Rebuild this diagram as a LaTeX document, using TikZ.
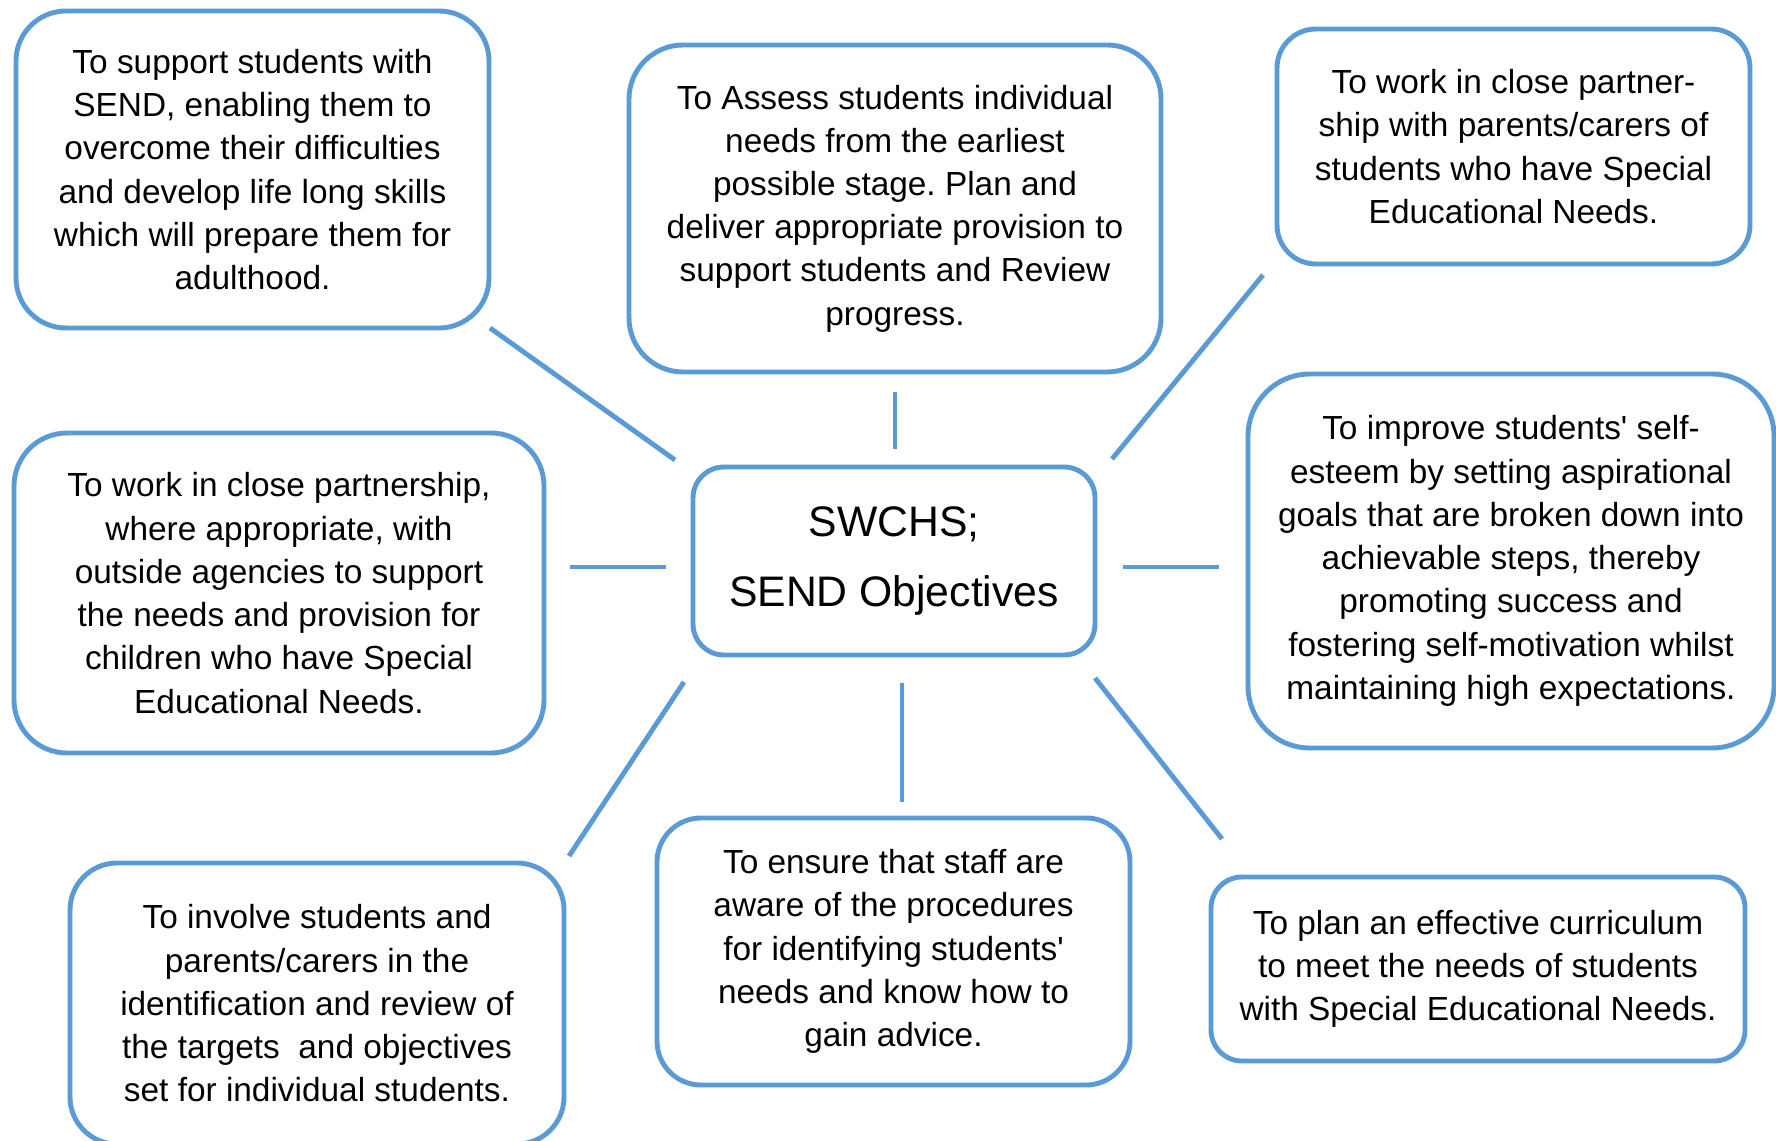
\documentclass[tikz,border=0pt]{standalone}
\usepackage{fontspec}
\setmainfont{Liberation Sans}
\usepackage{xcolor}
\usepackage{tikz}
\definecolor{sendblue}{RGB}{91, 155, 213}
\frenchspacing

\tikzset{
  aim/.style={draw=sendblue, line width=1.4pt, align=center, inner sep=0pt,
    font=\fontsize{9.5}{12.3}\selectfont},
  spoke/.style={draw=sendblue, line width=1.4pt}
}

\begin{document}
\begin{tikzpicture}[scale=1]
\useasboundingbox (0,0) rectangle (17.76,-11.41);

% Centre of the spider diagram
\node[aim, minimum width=4.02cm, minimum height=1.88cm, rounded corners=0.31cm,
  font=\fontsize{12.15}{19.9}\selectfont] (hub) at (8.94,-5.61) {SWCHS;\\SEND Objectives};

% Objectives round the centre
\node[aim, minimum width=4.73cm, minimum height=3.17cm, rounded corners=0.5cm] (support) at (2.525,-1.695)
  {To support students with\\SEND, enabling them to\\overcome their difficulties\\and develop life long skills\\which will prepare them for\\adulthood.};
\node[aim, minimum width=5.32cm, minimum height=3.27cm, rounded corners=0.54cm] (assess) at (8.95,-2.085)
  {To Assess students individual\\needs from the earliest\\possible stage. Plan and\\deliver appropriate provision to\\support students and Review\\progress.};
\node[aim, minimum width=4.73cm, minimum height=2.35cm, rounded corners=0.39cm] (parents) at (15.135,-1.465)
  {To work in close partner-\\ship with parents/carers of\\students who have Special\\Educational Needs.};
\node[aim, minimum width=5.30cm, minimum height=3.20cm, rounded corners=0.53cm] (agencies) at (2.79,-5.93)
  {To work in close partnership,\\where appropriate, with\\outside agencies to support\\the needs and provision for\\children who have Special\\Educational Needs.};
\node[aim, minimum width=5.26cm, minimum height=3.74cm, rounded corners=0.62cm] (esteem) at (15.11,-5.61)
  {To improve students\textquotesingle{} self-\\esteem by setting aspirational\\goals that are broken down into\\achievable steps, thereby\\promoting success and\\fostering self-motivation whilst\\maintaining high expectations.};
\node[aim, minimum width=4.94cm, minimum height=2.81cm, rounded corners=0.47cm] (involve) at (3.17,-10.035)
  {To involve students and\\parents/carers in the\\identification and review of\\the targets\ \ and objectives\\set for individual students.};
\node[aim, minimum width=4.73cm, minimum height=2.67cm, rounded corners=0.44cm] (staff) at (8.935,-9.515)
  {To ensure that staff are\\aware of the procedures\\for identifying students\textquotesingle\\needs and know how to\\gain advice.};
\node[aim, minimum width=5.34cm, minimum height=1.84cm, rounded corners=0.31cm] (curriculum) at (14.78,-9.69)
  {To plan an effective curriculum\\to meet the needs of students\\with Special Educational Needs.};

% Spoke ends (the spokes stop short of the boxes)
\coordinate (support-in) at (6.75,-4.60);  \coordinate (support-out) at (4.90,-3.28);
\coordinate (assess-in) at (8.95,-4.49);   \coordinate (assess-out) at (8.95,-3.92);
\coordinate (parents-in) at (11.12,-4.59); \coordinate (parents-out) at (12.63,-2.75);
\coordinate (agencies-in) at (6.66,-5.67); \coordinate (agencies-out) at (5.70,-5.67);
\coordinate (esteem-in) at (11.23,-5.67);  \coordinate (esteem-out) at (12.19,-5.67);
\coordinate (involve-in) at (6.84,-6.82);  \coordinate (involve-out) at (5.69,-8.56);
\coordinate (staff-in) at (9.02,-6.83);    \coordinate (staff-out) at (9.02,-8.02);
\coordinate (curriculum-in) at (10.95,-6.78); \coordinate (curriculum-out) at (12.22,-8.39);

\draw[spoke] (support-in) -- (support-out);
\draw[spoke] (assess-in) -- (assess-out);
\draw[spoke] (parents-in) -- (parents-out);
\draw[spoke] (agencies-in) -- (agencies-out);
\draw[spoke] (esteem-in) -- (esteem-out);
\draw[spoke] (involve-in) -- (involve-out);
\draw[spoke] (staff-in) -- (staff-out);
\draw[spoke] (curriculum-in) -- (curriculum-out);
\end{tikzpicture}
\end{document}
